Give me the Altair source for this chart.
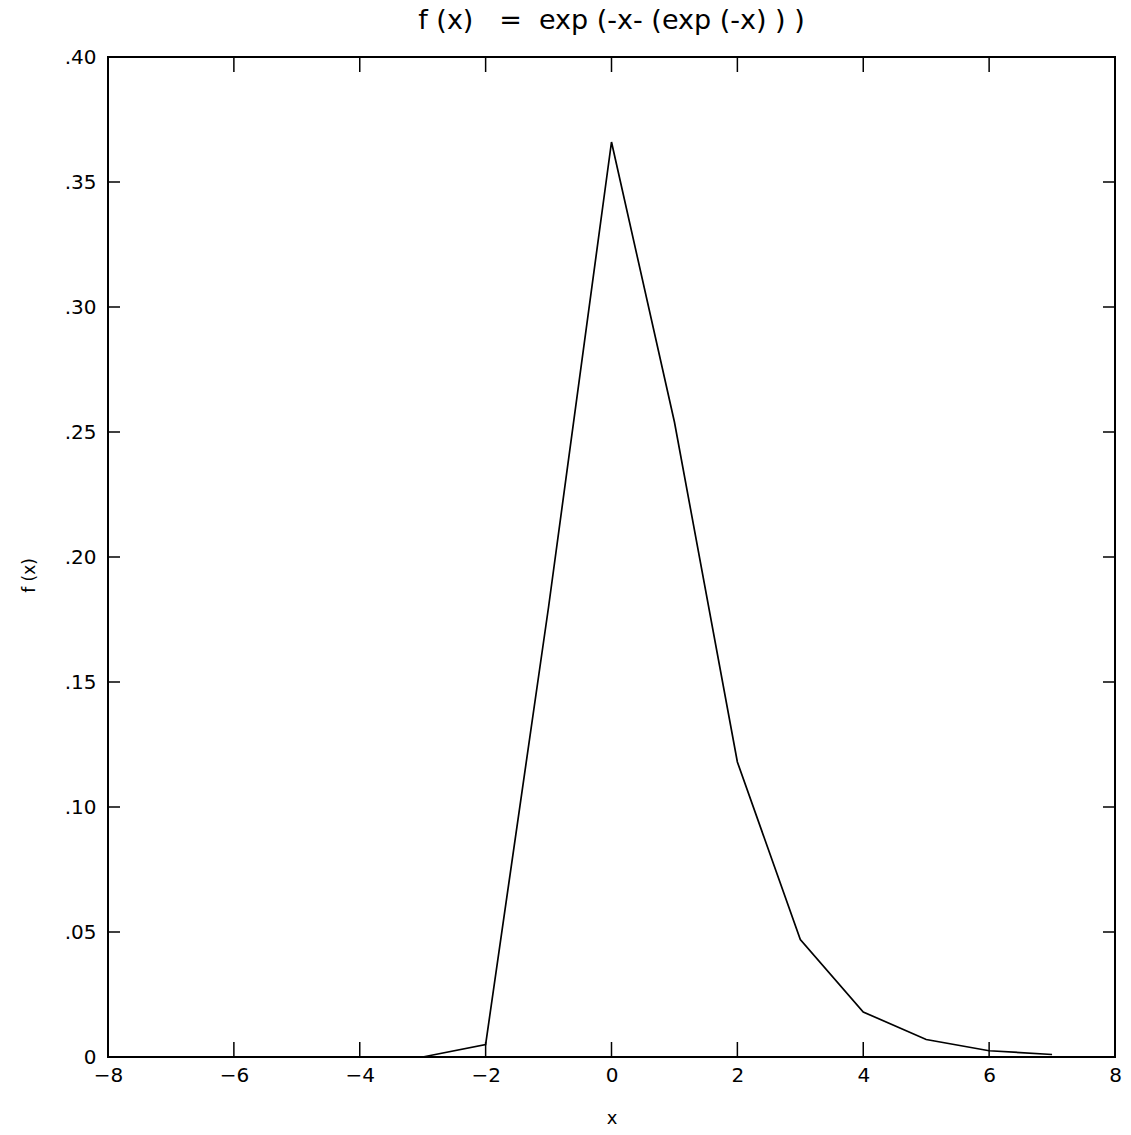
import altair as alt
import pandas as pd

# data
xs = [-8, -7, -6, -5, -4, -3, -2, -1, 0, 1, 2, 3, 4, 5, 6, 7]
fx = [0, 0, 0, 0, 0, 0, 0.005, 0.18, 0.366, 0.254, 0.118, 0.047, 0.018, 0.007, 0.0025, 0.001]
x_ticks = [-8, -6, -4, -2, 0, 2, 4, 6, 8]
y_ticks = [0, 0.05, 0.10, 0.15, 0.20, 0.25, 0.30, 0.35, 0.40]
title_text = "f (x)\u00a0\u00a0\u00a0=\u00a0\u00a0exp (-x- (exp (-x) ) )"

W, H = 1007, 1000
FONT = "DejaVu Sans"

df = pd.DataFrame({"x": xs, "f": fx})
xt = pd.DataFrame({"x": x_ticks[1:-1]})
yt = pd.DataFrame({"f": y_ticks[1:-1]})

xscale = alt.Scale(domain=[-8, 8], nice=False, zero=False)
yscale = alt.Scale(domain=[0, 0.4], nice=False, zero=False)

xaxis = alt.Axis(values=x_ticks, ticks=False, domain=False, grid=False,
                 labelFont=FONT, labelFontSize=20, labelColor="black",
                 labelPadding=8, labelFlush=False,
                 titleFont=FONT, titleFontSize=18, titleFontWeight="normal",
                 titleColor="black", titlePadding=24)
yaxis = alt.Axis(values=y_ticks, ticks=False, domain=False, grid=False,
                 labelExpr="datum.value == 0 ? '0' : slice(format(datum.value, '.2f'), 1)",
                 labelFont=FONT, labelFontSize=20, labelColor="black",
                 labelPadding=12, labelFlush=False,
                 titleFont=FONT, titleFontSize=17, titleFontWeight="normal",
                 titleColor="black", titleX=-70, titleY=518)

X = alt.X("x:Q", scale=xscale, title="x", axis=xaxis)
Y = alt.Y("f:Q", scale=yscale, title="f (x)", axis=yaxis)

line = alt.Chart(df).mark_line(color="black", strokeWidth=1.7).encode(x=X, y=Y)

bottom = alt.Chart(xt).mark_rule(color="black", strokeWidth=1.5).encode(
    x=X, y=alt.value(H), y2=alt.value(H - 15))
top = alt.Chart(xt).mark_rule(color="black", strokeWidth=1.5).encode(
    x=X, y=alt.value(0), y2=alt.value(15))
left = alt.Chart(yt).mark_rule(color="black", strokeWidth=1.5).encode(
    y=Y, x=alt.value(0), x2=alt.value(12))
right = alt.Chart(yt).mark_rule(color="black", strokeWidth=1.5).encode(
    y=Y, x=alt.value(W), x2=alt.value(W - 12))

chart = alt.layer(line, bottom, top, left, right).properties(
    width=W, height=H,
    autosize=alt.AutoSizeParams(type="none"),
    padding={"left": 108, "top": 57, "right": 16, "bottom": 78},
    background="white",
    title=alt.TitleParams(title_text, font=FONT, fontSize=27,
                          fontWeight="normal", color="black", anchor="middle", offset=12),
).configure_view(stroke="black", strokeWidth=2)

chart.save("out.html", embed_options={"renderer": "svg", "actions": False})
